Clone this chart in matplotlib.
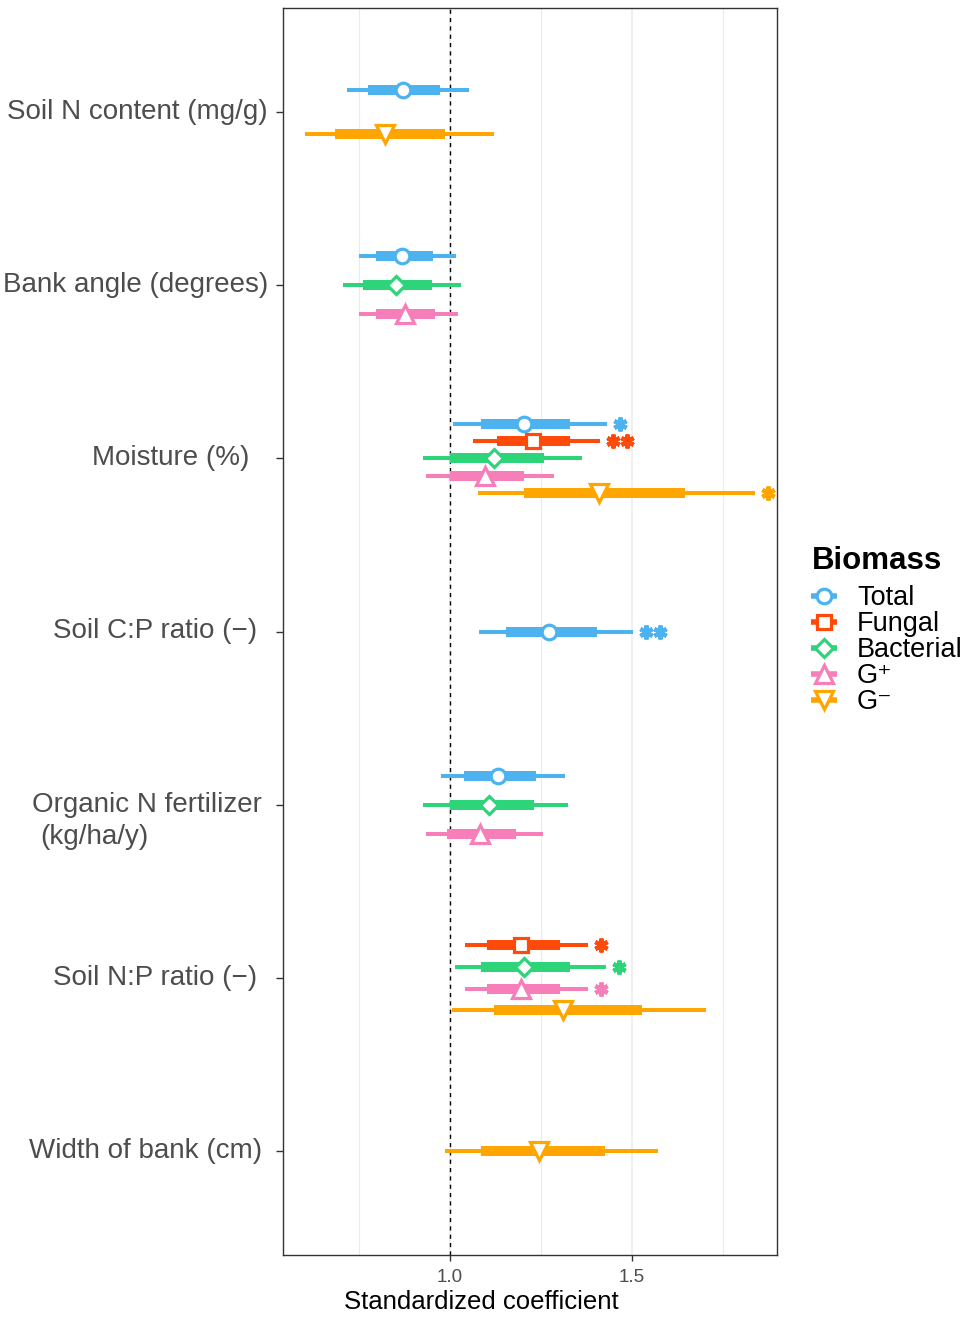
import matplotlib

matplotlib.use("Agg")
import matplotlib.pyplot as plt
import matplotlib.transforms as mtransforms
from matplotlib.lines import Line2D

plt.rcParams["font.family"] = ["Liberation Sans", "DejaVu Sans"]

# ---- data -------------------------------------------------------------
VARIABLES = [
    "Soil N content (mg/g)",
    "Bank angle (degrees)",
    "Moisture (%)",
    "Soil C:P ratio (\u2212)",
    "Organic N fertilizer",
    "Soil N:P ratio (\u2212)",
    "Width of bank (cm)",
]
GROUPS = ["Total", "Fungal", "Bacterial", "G\u207a", "G\u207b"]

# one row per estimate
row_var = [0, 0, 1, 1, 1, 2, 2, 2, 2, 2, 3, 4, 4, 4, 5, 5, 5, 5, 6]
row_grp = [0, 4, 0, 2, 3, 0, 1, 2, 3, 4, 0, 0, 2, 3, 1, 2, 3, 4, 4]
lo95 = [0.716, 0.602, 0.749, 0.705, 0.750, 1.009, 1.064, 0.925, 0.933, 1.077,
        1.079, 0.976, 0.926, 0.935, 1.041, 1.013, 1.040, 1.006, 0.985]
lo50 = [0.776, 0.684, 0.796, 0.762, 0.798, 1.084, 1.128, 0.999, 0.999, 1.204,
        1.155, 1.038, 0.999, 0.992, 1.102, 1.086, 1.102, 1.120, 1.084]
est = [0.870, 0.821, 0.869, 0.853, 0.876, 1.203, 1.228, 1.122, 1.095, 1.408,
       1.273, 1.132, 1.108, 1.082, 1.196, 1.203, 1.195, 1.310, 1.244]
hi50 = [0.973, 0.986, 0.953, 0.951, 0.960, 1.331, 1.331, 1.259, 1.203, 1.646,
        1.404, 1.237, 1.232, 1.182, 1.301, 1.331, 1.301, 1.527, 1.427]
hi95 = [1.053, 1.121, 1.017, 1.031, 1.023, 1.431, 1.411, 1.364, 1.287, 1.838,
        1.503, 1.315, 1.324, 1.256, 1.379, 1.429, 1.379, 1.704, 1.571]
n_stars = [0, 0, 0, 0, 0, 1, 2, 0, 0, 1, 2, 0, 0, 0, 1, 1, 1, 0, 0]

# ---- style ------------------------------------------------------------
COLORS = ["#4DB3F0", "#FF4A0A", "#2ED47A", "#F67FBA", "#FFA500"]
MARKERS = ["o", "s", "D", "^", "v"]
MSIZE = [10.5, 9.5, 9, 13, 13]
DODGE = 0.5

fig = plt.figure(figsize=(9.65, 13.17), dpi=100)
W, H = 965, 1317
ax = fig.add_axes([283 / W, 1 - 1255 / H, (777 - 283) / W, (1255 - 8) / H])
ax.set_xlim(0.5412, 1.8984)
ax.set_ylim(len(VARIABLES) + 0.6, 0.4)

for sp in ax.spines.values():
    sp.set_color("#333333")
    sp.set_linewidth(1.0)

ax.set_xticks([1.0, 1.5])
ax.set_xticklabels(["1.0", "1.5"])
ax.set_xticks([0.75, 1.25, 1.75], minor=True)
ax.grid(which="major", axis="x", color="#EBEBEB", lw=1.1, zorder=0)
ax.grid(which="minor", axis="x", color="#EBEBEB", lw=0.8, zorder=0)
ax.set_axisbelow(True)
ax.tick_params(axis="x", which="major", length=4, width=1, color="#333333",
               labelsize=13.5, labelcolor="#4D4D4D", pad=6)
ax.tick_params(axis="x", which="minor", length=0)
ax.tick_params(axis="y", length=5, width=1, color="#333333")
ax.set_yticks(range(1, len(VARIABLES) + 1))
ax.set_yticklabels([])

ax.axvline(1.0, color="black", lw=1.0, ls=(0, (3, 3)), zorder=1)

# dodge positions within each variable
present = {v: [g for r, g in zip(row_var, row_grp) if r == v] for v in range(len(VARIABLES))}

for i in range(len(row_var)):
    v, g = row_var[i], row_grp[i]
    members = present[v]
    n = len(members)
    k = members.index(g)
    y = v + 1 + (k - (n - 1) / 2) * DODGE / n
    c = COLORS[g]
    ax.plot([lo95[i], hi95[i]], [y, y], color=c, lw=2.9, solid_capstyle="butt", zorder=2)
    ax.plot([lo50[i], hi50[i]], [y, y], color=c, lw=7.2, solid_capstyle="butt", zorder=3)
    ax.plot(est[i], y, marker=MARKERS[g], ms=MSIZE[g], mfc="white", mec=c, mew=2.3,
            zorder=4, ls="none")
    for s in range(n_stars[i]):
        ax.plot(hi95[i] + 0.036 + s * 0.038, y, marker=(6, 2, 0), ms=10, mew=3,
                color=c, ls="none", zorder=4)

# y labels
ylab_tr = mtransforms.blended_transform_factory(fig.transFigure, ax.transData)
label_end = [268, 268, 249, 257, 262, 257, 262]
for j, lab in enumerate(VARIABLES):
    ax.text(label_end[j] / W, j + 1, lab, transform=ylab_tr, ha="right", va="center",
            fontsize=20, color="#4D4D4D")
ax.text(40 / W, 5 + 32 / 173.5, "(kg/ha/y)", transform=ylab_tr, ha="left",
        va="center", fontsize=20, color="#4D4D4D")

# x label
fig.text(481 / W, 1 - 1302 / H, "Standardized coefficient", ha="center", va="center",
         fontsize=18.5, color="black")

# legend
fig.text(812 / W, 1 - 561 / H, "Biomass", ha="left", va="center", fontsize=22.5,
         fontweight="bold")
handles = [
    Line2D([], [], color=COLORS[g], lw=4, marker=MARKERS[g], ms=MSIZE[g],
           mfc="white", mec=COLORS[g], mew=2.3, solid_capstyle="butt")
    for g in range(len(GROUPS))
]
fig.legend(handles, GROUPS, loc="upper left", bbox_to_anchor=(811 / W, 1 - 585 / H),
           frameon=False, fontsize=19.5, handlelength=0.95, handletextpad=0.75,
           labelspacing=0.0, borderpad=0, borderaxespad=0)

fig.savefig("out.png", dpi=100)
